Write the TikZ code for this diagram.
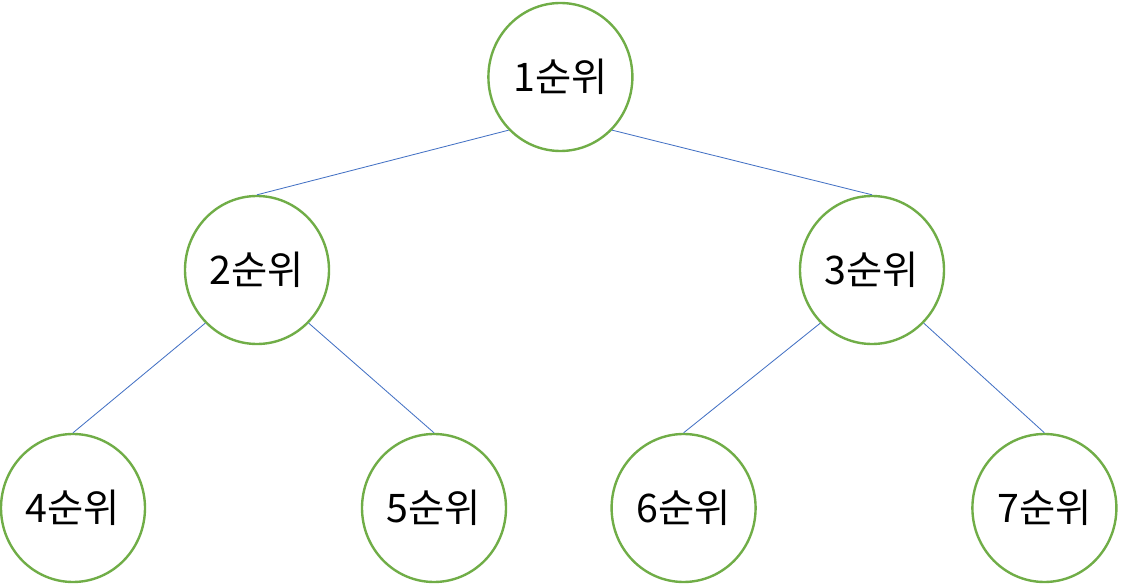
\documentclass[tikz,border=0pt]{standalone}
\usepackage{fontspec}
\newfontfamily\kor{Noto Sans CJK KR}
\definecolor{leafgreen}{HTML}{70AD47}
\definecolor{linkblue}{HTML}{4472C4}
\usetikzlibrary{shapes.geometric}

\begin{document}
\begin{tikzpicture}[
  rank/.style={ellipse, draw=leafgreen, line width=1.7pt, fill=white,
    minimum width=3.6cm, minimum height=3.7cm, inner sep=0pt,
    font=\kor\fontsize{28}{32}\selectfont},
  link/.style={linkblue, line width=0.6pt}
]
  \useasboundingbox (0,0) rectangle (28.1,14.625);
  \node[rank] (r1) at (14.01,12.70) {1순위};
  \node[rank] (r2) at (6.425,7.875) {2순위};
  \node[rank] (r3) at (21.8,7.875) {3순위};
  \node[rank] (r4) at (1.825,1.925) {4순위};
  \node[rank] (r5) at (10.85,1.925) {5순위};
  \node[rank] (r6) at (17.09,1.925) {6순위};
  \node[rank] (r7) at (26.11,1.925) {7순위};
  \draw[link] (r1.south west) -- (r2.north);
  \draw[link] (r1.south east) -- (r3.north);
  \draw[link] (r2.south west) -- (r4.north);
  \draw[link] (r2.south east) -- (r5.north);
  \draw[link] (r3.south west) -- (r6.north);
  \draw[link] (r3.south east) -- (r7.north);
\end{tikzpicture}
\end{document}
